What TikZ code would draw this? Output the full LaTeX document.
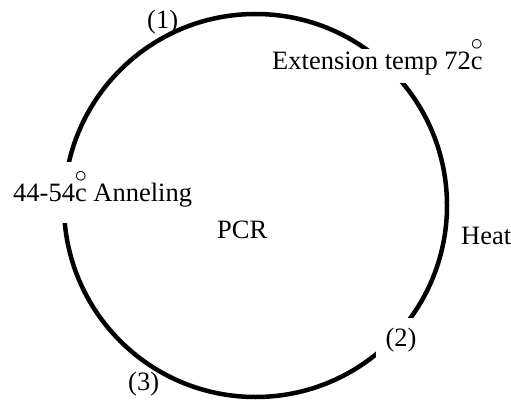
\documentclass[tikz,border=0pt]{standalone}
\usepackage{fontspec}
\setmainfont{Liberation Serif}
\usetikzlibrary{positioning}
% small ring set high above the c
\newcommand{\degc}{\ooalign{c\cr\hidewidth\smash{\raisebox{19pt}{\fontsize{24}{24}\selectfont$\circ$}}\hidewidth\cr}}

\begin{document}
\begin{tikzpicture}[x=1pt, y=-1pt,
    lbl/.style={font=\fontsize{26.5}{30}\selectfont, inner sep=0pt, anchor=base west},
    gapbox/.style={lbl, fill=white, inner sep=4pt}]
    \useasboundingbox (0,0) rectangle (511,401);

    % Cycle
    \draw[line width=4.5pt] (255.5,205.5) circle [radius=191.5pt];

    % Steps on the cycle (white boxes break the line)
    \node[gapbox, text height=16pt, text depth=10pt] (ext) at (268,69.3) {Extension temp 72\degc};
    \node[gapbox, text height=36pt, text depth=17pt] (anneal) at (9,201.7) {44-54\degc{} Anneling};
    \node[gapbox, anchor=base, inner sep=10pt] (two) at (401,346) {(2)};

    % Labels
    \node[lbl] (one) at (147,29) {(1)};
    \node[lbl] (three) at (128,390) {(3)};
    \node[lbl] (pcr) at (217,238.3) {PCR};
    \node[lbl] (heat) at (461,244) {Heat};
\end{tikzpicture}
\end{document}
